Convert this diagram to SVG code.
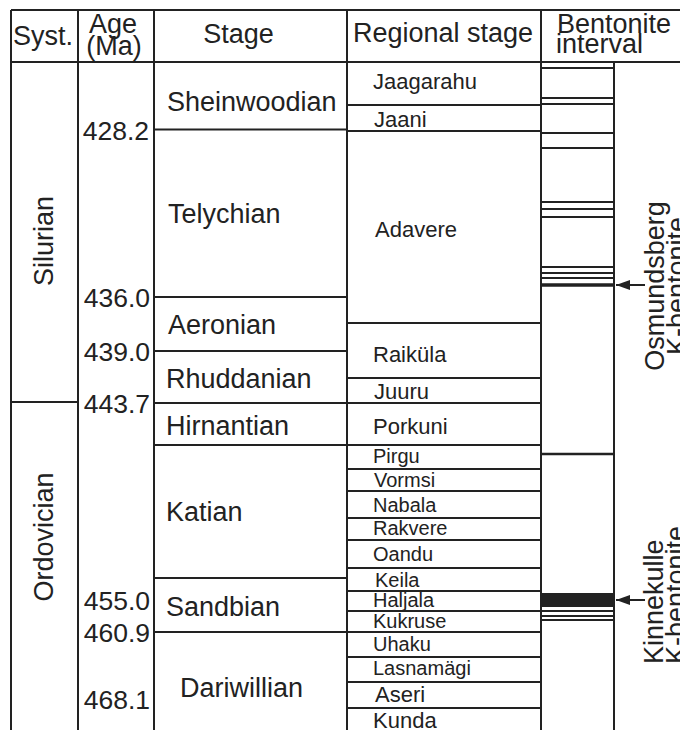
<svg xmlns="http://www.w3.org/2000/svg" width="680" height="730" viewBox="0 0 680 730">
<style>
.ln line{stroke:#222;stroke-width:2}
.bt line{stroke:#222;stroke-width:1.8}
text{font-family:"Liberation Sans",Arial,Helvetica,sans-serif;fill:#222}
.h{font-size:27px}
.st{font-size:27px}
.ag{font-size:26.5px;text-anchor:end}
.rg{font-size:22px}
.rs{font-size:20px}
.rot{font-size:27px}
.cn{stroke:#222;stroke-width:2;fill:none}
</style>
<defs>
<marker id="ah" markerWidth="14" markerHeight="10" refX="14" refY="5" orient="auto" markerUnits="userSpaceOnUse">
<path d="M0,0 L14,5 L0,10 z" fill="#222"/>
</marker>
</defs>
<rect width="680" height="730" fill="#fff"/>

<g id="grid" class="ln">
<line x1="11" y1="10" x2="680" y2="10"/>
<line x1="11" y1="62" x2="680" y2="62"/>
<line x1="11" y1="10" x2="11" y2="730"/>
<line x1="78" y1="10" x2="78" y2="730"/>
<line x1="154" y1="10" x2="154" y2="730"/>
<line x1="347" y1="10" x2="347" y2="730"/>
<line x1="541" y1="10" x2="541" y2="730"/>
<line x1="614" y1="62" x2="614" y2="730"/>
<line x1="11" y1="402" x2="78" y2="402"/>
<line x1="154" y1="129.5" x2="347" y2="129.5"/>
<line x1="154" y1="297" x2="347" y2="297"/>
<line x1="154" y1="351" x2="347" y2="351"/>
<line x1="154" y1="403" x2="347" y2="403"/>
<line x1="154" y1="445" x2="347" y2="445"/>
<line x1="154" y1="578" x2="347" y2="578"/>
<line x1="154" y1="632" x2="347" y2="632"/>
<line x1="347" y1="105" x2="541" y2="105"/>
<line x1="347" y1="131" x2="541" y2="131"/>
<line x1="347" y1="323" x2="541" y2="323"/>
<line x1="347" y1="378" x2="541" y2="378"/>
<line x1="347" y1="403" x2="541" y2="403"/>
<line x1="347" y1="445" x2="541" y2="445"/>
<line x1="347" y1="469" x2="541" y2="469"/>
<line x1="347" y1="491" x2="541" y2="491"/>
<line x1="347" y1="518" x2="541" y2="518"/>
<line x1="347" y1="540" x2="541" y2="540"/>
<line x1="347" y1="568" x2="541" y2="568"/>
<line x1="347" y1="591" x2="541" y2="591"/>
<line x1="347" y1="611" x2="541" y2="611"/>
<line x1="347" y1="632" x2="541" y2="632"/>
<line x1="347" y1="657" x2="541" y2="657"/>
<line x1="347" y1="682" x2="541" y2="682"/>
<line x1="347" y1="708" x2="541" y2="708"/>
</g>

<g id="header">
<text class="h" x="13" y="45">Syst.</text>
<text class="h" x="113" y="33" text-anchor="middle">Age</text>
<text class="h" x="114" y="55" text-anchor="middle">(Ma)</text>
<text class="h" x="238.5" y="43" text-anchor="middle">Stage</text>
<text class="h" x="353" y="42">Regional stage</text>
<text class="h" x="557" y="33">Bentonite</text>
<text class="h" x="556" y="53">interval</text>
</g>

<g id="systems">
<text class="rot" transform="translate(53,241) rotate(-90)" text-anchor="middle">Silurian</text>
<text class="rot" transform="translate(53,537) rotate(-90)" text-anchor="middle">Ordovician</text>
</g>

<g id="ages">
<text class="ag" x="149" y="140">428.2</text>
<text class="ag" x="150" y="307">436.0</text>
<text class="ag" x="150" y="361">439.0</text>
<text class="ag" x="150" y="413">443.7</text>
<text class="ag" x="150" y="610">455.0</text>
<text class="ag" x="150" y="642">460.9</text>
<text class="ag" x="150" y="709">468.1</text>
</g>

<g id="stages">
<text class="st" x="167" y="111">Sheinwoodian</text>
<text class="st" x="168" y="223">Telychian</text>
<text class="st" x="168" y="334">Aeronian</text>
<text class="st" x="166" y="388">Rhuddanian</text>
<text class="st" x="166" y="435">Hirnantian</text>
<text class="st" x="166" y="521">Katian</text>
<text class="st" x="166" y="616">Sandbian</text>
<text class="st" x="180" y="697">Dariwillian</text>
</g>

<g id="regional-stages">
<text class="rg" x="373" y="89">Jaagarahu</text>
<text class="rg" x="374" y="127">Jaani</text>
<text class="rg" x="375" y="237">Adavere</text>
<text class="rg" x="373" y="362">Raiküla</text>
<text class="rg" x="374" y="399">Juuru</text>
<text class="rg" x="373" y="434">Porkuni</text>
<text class="rs" x="373" y="463">Pirgu</text>
<text class="rs" x="374" y="487">Vormsi</text>
<text class="rs" x="373" y="512">Nabala</text>
<text class="rs" x="373" y="535">Rakvere</text>
<text class="rs" x="373" y="561">Oandu</text>
<text class="rs" x="375" y="587">Keila</text>
<text class="rs" x="373" y="607">Haljala</text>
<text class="rs" x="373" y="628">Kukruse</text>
<text class="rs" x="373" y="651">Uhaku</text>
<text class="rs" x="373" y="675">Lasnamägi</text>
<text class="rg" x="375" y="702">Aseri</text>
<text class="rg" x="373" y="728">Kunda</text>
</g>

<g id="bentonite-column" class="bt">
<line x1="541" y1="68" x2="614" y2="68"/>
<line x1="541" y1="98" x2="614" y2="98"/>
<line x1="541" y1="104" x2="614" y2="104"/>
<line x1="541" y1="133" x2="614" y2="133"/>
<line x1="541" y1="148" x2="614" y2="148"/>
<line x1="541" y1="202" x2="614" y2="202"/>
<line x1="541" y1="209" x2="614" y2="209"/>
<line x1="541" y1="217" x2="614" y2="217"/>
<line x1="541" y1="267" x2="614" y2="267"/>
<line x1="541" y1="273" x2="614" y2="273"/>
<line x1="541" y1="278" x2="614" y2="278"/>
<line x1="541" y1="285" x2="614" y2="285" style="stroke-width:3.5"/>
<line x1="541" y1="454" x2="614" y2="454" style="stroke-width:2.5"/>
<rect x="541" y="593" width="73" height="14" fill="#222"/>
<line x1="541" y1="611" x2="614" y2="611"/>
<line x1="541" y1="616" x2="614" y2="616"/>
<line x1="541" y1="620" x2="614" y2="620"/>
</g>

<g id="osmundsberg">
<text class="rot" transform="translate(664,286) rotate(-90)" text-anchor="middle">Osmundsberg</text>
<text class="rot" transform="translate(686,286) rotate(-90)" text-anchor="middle">K-bentonite</text>
</g>

<g id="kinnekulle">
<text class="rot" transform="translate(663,664) rotate(-90)">Kinnekulle</text>
<text class="rot" transform="translate(685,664) rotate(-90)">K-bentonite</text>
</g>

<g id="connectors">
<line class="cn" x1="645" y1="285" x2="616" y2="285" marker-end="url(#ah)"/>
<line class="cn" x1="645" y1="600" x2="616" y2="600" marker-end="url(#ah)"/>
</g>
</svg>
